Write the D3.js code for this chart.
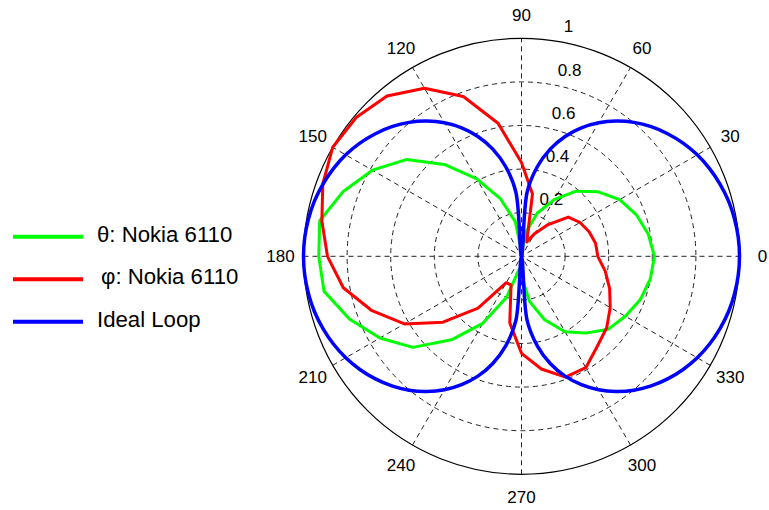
<!DOCTYPE html>
<html>
<head>
<meta charset="utf-8">
<script src="https://cdnjs.cloudflare.com/ajax/libs/d3/7.8.5/d3.min.js"></script>
<style>
  body { margin: 0; background: #fff; }
  text { font-family: "Liberation Sans", Arial, sans-serif; fill: #000; }
</style>
</head>
<body>
<div class="polar-chart"></div>
<script>
// tick labels
const angleTicks = [0, 30, 60, 90, 120, 150, 180, 210, 240, 270, 300, 330];
const ringTicks = [0.2, 0.4, 0.6, 0.8, 1];

// measured patterns, every 10 degrees
const measuredAngles = [0, 10, 20, 30, 40, 50, 60, 70, 80, 90, 100, 110, 120, 130, 140, 150, 160, 170,
  180, 190, 200, 210, 220, 230, 240, 250, 260, 270, 280, 290, 300, 310, 320, 330, 340, 350];
const thetaNokia = [0.61, 0.59, 0.56, 0.52, 0.46, 0.39, 0.30, 0.21, 0.11, 0.02, 0.16, 0.28, 0.41, 0.55, 0.69, 0.79, 0.87, 0.94,
  0.93, 0.92, 0.84, 0.75, 0.65, 0.50, 0.355, 0.20, 0.06, 0.09, 0.21, 0.31, 0.40, 0.46, 0.52, 0.55, 0.58, 0.60];
const phiNokia = [0.35, 0.345, 0.33, 0.31, 0.28, 0.19, 0.12, 0.07, 0.29, 0.43, 0.62, 0.78, 0.89, 0.96, 0.99, 1.00, 0.97, 0.93,
  0.89, 0.83, 0.73, 0.62, 0.47, 0.31, 0.14, 0.14, 0.31, 0.445, 0.525, 0.59, 0.59, 0.54, 0.51, 0.47, 0.43, 0.39];

// ideal loop, every 5 degrees
const loopAngles = [0, 5, 10, 15, 20, 25, 30, 35, 40, 45, 50, 55, 60, 65, 70, 75, 80, 85,
  90, 95, 100, 105, 110, 115, 120, 125, 130, 135, 140, 145, 150, 155, 160, 165, 170, 175,
  180, 185, 190, 195, 200, 205, 210, 215, 220, 225, 230, 235, 240, 245, 250, 255, 260, 265,
  270, 275, 280, 285, 290, 295, 300, 305, 310, 315, 320, 325, 330, 335, 340, 345, 350, 355];
const idealLoop = [1, 0.998, 0.992, 0.983, 0.969, 0.952, 0.931, 0.905, 0.875, 0.841, 0.802, 0.757, 0.707, 0.65, 0.585, 0.509, 0.417, 0.295,
  0, 0.295, 0.417, 0.509, 0.585, 0.65, 0.707, 0.757, 0.802, 0.841, 0.875, 0.905, 0.931, 0.952, 0.969, 0.983, 0.992, 0.998,
  1, 0.998, 0.992, 0.983, 0.969, 0.952, 0.931, 0.905, 0.875, 0.841, 0.802, 0.757, 0.707, 0.65, 0.585, 0.509, 0.417, 0.295,
  0, 0.295, 0.417, 0.509, 0.585, 0.65, 0.707, 0.757, 0.802, 0.841, 0.875, 0.905, 0.931, 0.952, 0.969, 0.983, 0.992, 0.998];

const seriesNames = ['θ: Nokia 6110', 'φ: Nokia 6110', 'Ideal Loop'];
const seriesColors = ['#00ff00', '#ff0000', '#0000ff'];

const width = 769, height = 510;
const cx = 521.5, cy = 256.3, radius = 218;
const rScale = d3.scaleLinear().domain([0, 1]).range([0, radius]);
const toRad = d => d * Math.PI / 180;

const svg = d3.select('.polar-chart')
  .append('svg')
  .attr('width', width)
  .attr('height', height)
  .style('background', '#fff');

const g = svg.append('g').attr('transform', `translate(${cx},${cy})`);

// dashed rings
g.selectAll('.ring')
  .data(ringTicks.filter(d => d < 1))
  .enter().append('circle')
  .attr('class', 'ring')
  .attr('r', d => rScale(d))
  .style('fill', 'none')
  .style('stroke', '#222')
  .style('stroke-width', 1)
  .style('stroke-dasharray', '5,4');

// dashed spokes, one line per pair of opposite angles
g.selectAll('.spoke')
  .data(angleTicks.filter(d => d < 180))
  .enter().append('line')
  .attr('class', 'spoke')
  .attr('x1', d => -rScale(1) * Math.cos(toRad(d)))
  .attr('y1', d => rScale(1) * Math.sin(toRad(d)))
  .attr('x2', d => rScale(1) * Math.cos(toRad(d)))
  .attr('y2', d => -rScale(1) * Math.sin(toRad(d)))
  .style('stroke', '#222')
  .style('stroke-width', 1)
  .style('stroke-dasharray', '5,4');

g.append('circle')
  .attr('r', rScale(1))
  .style('fill', 'none')
  .style('stroke', '#000')
  .style('stroke-width', 1.2);

// angle labels
const labelR = rScale(1) + 23;
g.selectAll('.angleLabel')
  .data(angleTicks)
  .enter().append('text')
  .attr('class', 'angleLabel')
  .attr('x', d => labelR * Math.cos(toRad(d)))
  .attr('y', d => -labelR * Math.sin(toRad(d)))
  .attr('dy', '0.35em')
  .attr('text-anchor', 'middle')
  .style('font-size', '17px')
  .text(d => d);

// radial labels along 82 degrees
g.selectAll('.ringLabel')
  .data(ringTicks)
  .enter().append('text')
  .attr('class', 'ringLabel')
  .attr('x', d => rScale(d) * Math.cos(toRad(82)) + 12)
  .attr('y', d => -rScale(d) * Math.sin(toRad(82)) - 14)
  .attr('dy', '0.35em')
  .style('font-size', '17px')
  .text(d => d);

// curves
const radialLine = d3.lineRadial()
  .angle(d => Math.PI / 2 - toRad(d[0]))
  .radius(d => rScale(d[1]));

const series = [
  {pts: d3.zip(measuredAngles, thetaNokia), curve: d3.curveLinearClosed, w: 3},
  {pts: d3.zip(measuredAngles, phiNokia), curve: d3.curveLinearClosed, w: 3},
  {pts: d3.zip(loopAngles, idealLoop), curve: d3.curveCatmullRomClosed, w: 3.5}
];

series.forEach((s, i) => {
  g.append('path')
    .attr('d', radialLine.curve(s.curve)(s.pts))
    .style('fill', 'none')
    .style('stroke', seriesColors[i])
    .style('stroke-width', s.w)
    .style('stroke-linejoin', 'round');
});

// legend
const legend = svg.append('g').attr('class', 'legend');
const rowY = d3.scalePoint().domain(seriesNames).range([236.7, 321.7]);
seriesNames.forEach((name, i) => {
  legend.append('line')
    .attr('x1', 13).attr('x2', 83)
    .attr('y1', rowY(name)).attr('y2', rowY(name))
    .style('stroke', seriesColors[i])
    .style('stroke-width', 4);
  legend.append('text')
    .attr('x', i === 1 ? 101 : 97)
    .attr('y', rowY(name) + 5)
    .style('font-size', '22.2px')
    .text(name);
});
</script>
</body>
</html>
